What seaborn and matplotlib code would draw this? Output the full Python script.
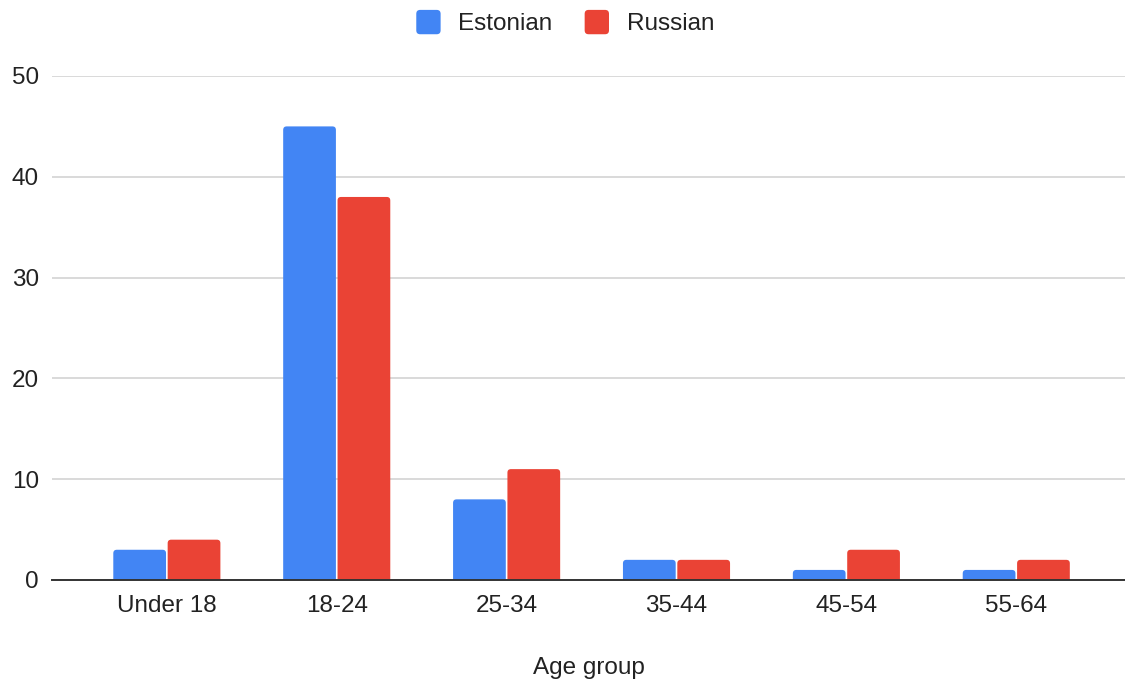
import matplotlib
matplotlib.use("Agg")
import matplotlib.pyplot as plt
from matplotlib.patches import FancyBboxPatch
from matplotlib.legend_handler import HandlerPatch
import seaborn as sns
import pandas as pd

age_groups = ["Under 18", "18-24", "25-34", "35-44", "45-54", "55-64"]
estonian = [3, 45, 8, 2, 1, 1]
russian = [4, 38, 11, 2, 3, 2]
series_names = ["Estonian", "Russian"]
y_ticks = [0, 10, 20, 30, 40, 50]

df = pd.DataFrame({
    "Age group": age_groups * 2,
    "Count": estonian + russian,
    "Language": [series_names[0]] * len(age_groups) + [series_names[1]] * len(age_groups),
})

sns.set_theme(style="white")
plt.rcParams["font.family"] = ["Liberation Sans", "DejaVu Sans"]

W, H = 1125, 683
fig = plt.figure(figsize=(W / 100, H / 100), dpi=100)
ax_left, ax_right, ax_bottom, ax_top = 52, 1125, 580, 76
ax = fig.add_axes([ax_left / W, 1 - ax_bottom / H, (ax_right - ax_left) / W, (ax_bottom - ax_top) / H])

palette = {"Estonian": "#4285F4", "Russian": "#EA4335"}
sns.barplot(data=df, x="Age group", y="Count", hue="Language", palette=palette,
            width=0.64, gap=0.03, saturation=1, ax=ax, legend=False, zorder=3)

xlim = (-0.676, 5.64)
ylim = (0, 50)
ax.set_ylim(*ylim)
ax.set_xlim(*xlim)

# Replace the plain rectangles with top-rounded bars (bottom corners fall below the axis and get clipped)
px_x = (xlim[1] - xlim[0]) / (ax_right - ax_left)
px_y = (ylim[1] - ylim[0]) / (ax_bottom - ax_top)
radius_px = 3.5
for bar in list(ax.patches):
    x0, y0 = bar.get_x(), bar.get_y()
    w, h = bar.get_width(), bar.get_height()
    ext = radius_px * px_y * 2
    rounded = FancyBboxPatch((x0, y0 - ext), w, h + ext,
                             boxstyle=f"round,pad=0,rounding_size={radius_px * px_x}",
                             mutation_aspect=px_y / px_x,
                             facecolor=bar.get_facecolor(), edgecolor="none", zorder=3)
    ax.add_patch(rounded)
    bar.set_visible(False)

ax.set_yticks(y_ticks)
ax.yaxis.grid(True, color="#cfcfcf", linewidth=1.1, zorder=0)
ax.set_axisbelow(True)
for s in ["top", "right", "left"]:
    ax.spines[s].set_visible(False)
ax.spines["bottom"].set_color("#333333")
ax.spines["bottom"].set_linewidth(1.4)
ax.spines["bottom"].set_zorder(4)
fs = 17.5
ax.tick_params(axis="both", length=0, labelsize=fs, colors="#222222")
ax.tick_params(axis="x", pad=11)
ax.tick_params(axis="y", pad=9.5)
ax.set_ylabel("")
ax.set_xlabel("Age group", fontsize=fs, color="#222222", va="center")
ax.xaxis.set_label_coords(0.5, (ax_bottom - 668) / (ax_bottom - ax_top))


class RoundedSquareHandler(HandlerPatch):
    def create_artists(self, legend, orig_handle, xdescent, ydescent, width, height, fontsize, trans):
        side = min(width, height) * 1.08
        x = -xdescent + (width - side) / 2
        y = -ydescent + (height - side) / 2
        p = FancyBboxPatch((x, y), side, side,
                           boxstyle=f"round,pad=0,rounding_size={side * 0.16}",
                           facecolor=orig_handle.get_facecolor(), edgecolor="none",
                           transform=trans)
        return [p]


handles = [FancyBboxPatch((0, 0), 1, 1, facecolor=palette[n]) for n in series_names]
leg = ax.legend(handles, series_names, loc="center", bbox_to_anchor=(0.478, 1.105), ncol=2,
                frameon=False, fontsize=fs, handlelength=1.05, handleheight=1.05,
                columnspacing=1.3, handletextpad=0.7,
                handler_map={FancyBboxPatch: RoundedSquareHandler()})
for t in leg.get_texts():
    t.set_color("#222222")

fig.savefig("out.png", dpi=100)
